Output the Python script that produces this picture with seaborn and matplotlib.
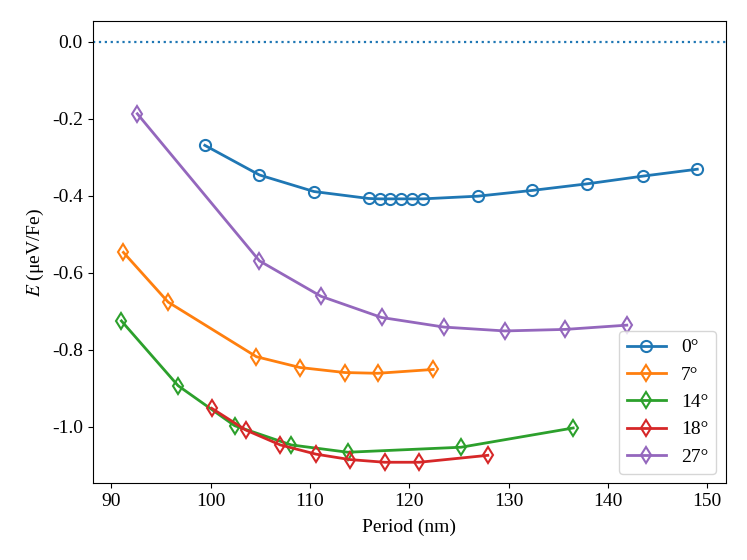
import pandas as pd
import numpy as np
import matplotlib
matplotlib.use("Agg")
import matplotlib.pyplot as plt
import seaborn as sns

# fonts: Times-like serif, hyphen minus like the reference
plt.rcParams['font.family'] = ['Liberation Serif', 'DejaVu Serif']
plt.rcParams['mathtext.fontset'] = 'stix'
plt.rcParams['axes.unicode_minus'] = False
plt.rcParams['font.size'] = 14

# Data
period_0 = [99.4, 104.9, 110.4, 115.9, 117.0, 118.1, 119.2, 120.3, 121.4, 126.9, 132.4, 137.9, 143.5, 149.0]
energy_0 = [-0.269, -0.346, -0.389, -0.407, -0.408, -0.408, -0.408, -0.408, -0.408, -0.401, -0.386, -0.369, -0.349, -0.331]

period_7 = [91.2, 95.7, 104.6, 109.0, 113.5, 116.8, 122.4]
energy_7 = [-0.547, -0.676, -0.818, -0.846, -0.859, -0.861, -0.851]

period_14 = [91.0, 96.7, 102.4, 108.1, 113.8, 125.2, 136.5]
energy_14 = [-0.725, -0.893, -0.997, -1.047, -1.066, -1.053, -1.003]

period_18 = [100.1, 103.5, 107.0, 110.6, 114.0, 117.5, 121.0, 127.9]
energy_18 = [-0.952, -1.008, -1.047, -1.071, -1.085, -1.092, -1.092, -1.074]

period_27 = [92.6, 104.9, 111.1, 117.2, 123.5, 129.6, 135.7, 141.9]
energy_27 = [-0.187, -0.569, -0.661, -0.716, -0.741, -0.751, -0.747, -0.736]

labels = ['0°', '7°', '14°', '18°', '27°']
markers = ['o', 'd', 'd', 'd', 'd']
colors = sns.color_palette('tab10', 5)

series = [
    (period_0, energy_0),
    (period_7, energy_7),
    (period_14, energy_14),
    (period_18, energy_18),
    (period_27, energy_27),
]

fig = plt.figure(figsize=(7.47, 5.6), dpi=100)
ax = fig.add_axes([0.124, 0.137, 0.848, 0.826])

for (px, ey), lab, mk, col in zip(series, labels, markers, colors):
    df = pd.DataFrame({'Period': px, 'E': ey})
    sns.lineplot(data=df, x='Period', y='E', ax=ax, color=col, label=lab,
                 marker=mk, markersize=8, fillstyle='none',
                 markeredgecolor=col, markeredgewidth=1.5, linewidth=2)

ax.axhline(0.0, color=colors[0], linestyle=':', linewidth=1.6)

ax.set_xlabel('Period (nm)', labelpad=6)
ax.set_ylabel(r'$E$ (μeV/Fe)')
ax.set_xticks([90, 100, 110, 120, 130, 140, 150])
ax.set_yticks([0.0, -0.2, -0.4, -0.6, -0.8, -1.0])
ax.yaxis.set_major_formatter(matplotlib.ticker.FormatStrFormatter('%.1f'))
ax.legend(loc='lower right', fontsize=14)

fig.savefig('out.png', dpi=100)
